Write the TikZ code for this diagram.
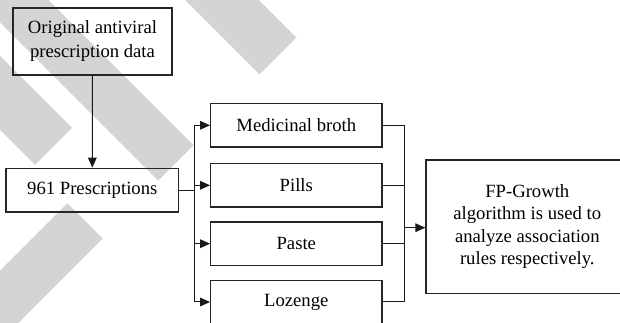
\documentclass[tikz,border=0pt]{standalone}
\usepackage{fontspec}
\setmainfont{Liberation Serif}
\usetikzlibrary{arrows.meta}

\begin{document}
\begin{tikzpicture}[x=0.75pt, y=-0.75pt,
    block/.style={draw=black!85, line width=0.9pt, inner sep=2pt,
        minimum width=128.5pt, minimum height=32.6pt, align=center,
        font=\fontsize{14}{16.8}\selectfont},
    link/.style={draw=black!90, line width=0.75pt},
    arrow/.style={link, -{Triangle[length=7.5pt, width=6.5pt]}},
    wmark/.style={fill=black!17, draw=none}
]
    \useasboundingbox (0,0) rectangle (620,323);
    \clip (0,0) rectangle (620,323);

    % watermark bands
    \fill[wmark] (196.4,-62.4) -- (296.4,37.6) -- (259.6,74.4) -- (159.6,-25.6) -- cycle;
    \fill[wmark] (-26.3,-74.7) -- (193.7,145.3) -- (158.3,180.7) -- (-61.7,-39.3) -- cycle;
    \fill[wmark] (-40,16) -- (72,128) -- (35,165) -- (-75,55) -- cycle;
    \fill[wmark] (-47.3,388.7) -- (102.7,238.7) -- (67.3,203.3) -- (-82.7,353.3) -- cycle;

    \node[block, minimum width=119.25pt, minimum height=50.25pt,
        font=\fontsize{14}{18}\selectfont] (orig) at (92.5,41.5)
        {Original antiviral\\prescription data};
    \node[block, minimum width=129.5pt, minimum height=32.8pt] (pres) at (92.3,190.1)
        {961 Prescriptions};
    \node[block] (broth) at (296.3,125.3) {Medicinal broth};
    \node[block] (pills) at (296.3,185.3) {Pills};
    \node[block] (paste) at (296.3,243.7) {Paste};
    \node[block] (lozenge) at (296.3,302) {Lozenge};
    \node[block, minimum width=152pt, minimum height=100pt] (fp) at (527.3,226.7)
        {FP-Growth\\algorithm is used to\\analyze association\\rules respectively.};

    \coordinate (split) at (194.3,190.1);
    \coordinate (join) at (404.3,227.7);

    \draw[arrow] (orig) -- (pres);
    \draw[link] (pres.east) -- (split);
    \draw[arrow] (split) |- (broth.west);
    \draw[arrow] (split) |- (pills.west);
    \draw[arrow] (split) |- (paste.west);
    \draw[arrow] (split) |- (lozenge.west);
    \draw[link] (broth.east) -| (join);
    \draw[link] (pills.east) -| (join);
    \draw[link] (paste.east) -| (join);
    \draw[link] (lozenge.east) -| (join);
    \draw[arrow] (join) -- (join -| fp.west);
\end{tikzpicture}
\end{document}
